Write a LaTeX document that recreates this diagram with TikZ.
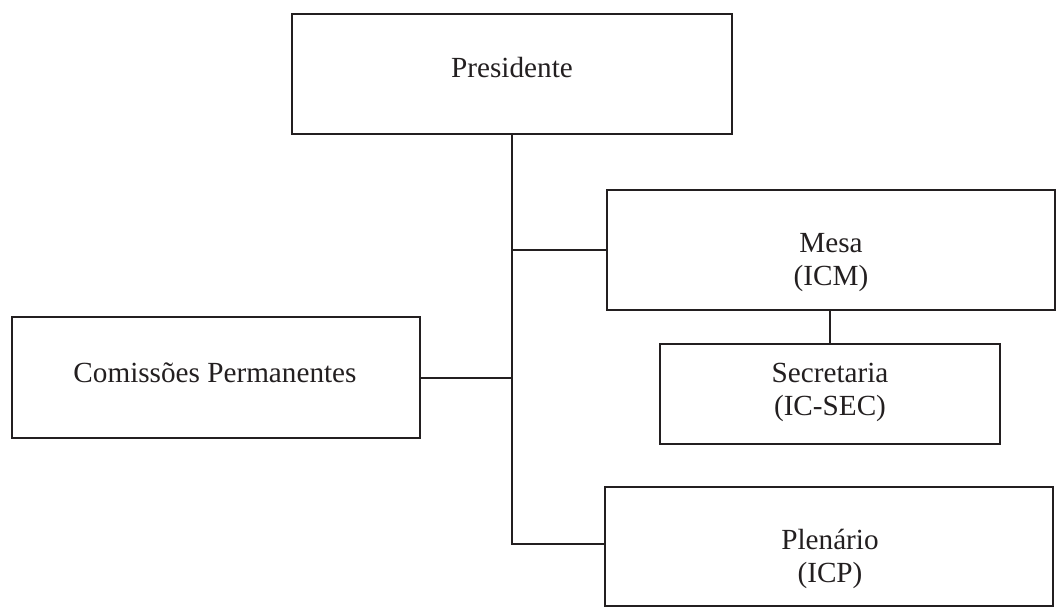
\documentclass[tikz,border=0pt]{standalone}
\usepackage{fontspec}
\setmainfont{Liberation Serif}
\begin{document}
\begin{tikzpicture}[x=0.5pt,y=-0.5pt,
  ink/.style={draw=inkc,line width=1pt},
  box/.style={ink,rectangle,inner sep=0pt,fill=white},
  lbl/.style={anchor=base,inner sep=0pt,text=inkc,font=\fontsize{14.6}{16.5}\selectfont},
  wire/.style={ink}]
\definecolor{inkc}{HTML}{231F20}
\useasboundingbox (0,0) rectangle (1056,607);

% boxes
\node[box,minimum width=220pt,minimum height=60pt]   (pres) at (512,74)    {};
\node[box,minimum width=224pt,minimum height=60pt]   (mesa) at (831,250)   {};
\node[box,minimum width=170pt,minimum height=50pt]   (sec)  at (830,394)   {};
\node[box,minimum width=224pt,minimum height=59.5pt] (ple)  at (829,546.5) {};
\node[box,minimum width=204pt,minimum height=60.5pt] (com)  at (216,377.5) {};

% labels
\node[lbl] (tpres) at (512,77)  {Presidente};
\node[lbl] (tmesa) at (831,252) {\begin{tabular}[t]{@{}c@{}}Mesa\\(ICM)\end{tabular}};
\node[lbl] (tsec)  at (830,382) {\begin{tabular}[t]{@{}c@{}}Secretaria\\(IC-SEC)\end{tabular}};
\node[lbl] (tple)  at (830,549) {\begin{tabular}[t]{@{}c@{}}Plenário\\(ICP)\end{tabular}};
\node[lbl] (tcom)  at (215,382) {Comissões Permanentes};

% connectors
\coordinate (tend) at (512,544);
\draw[wire] (pres.south) -- (tend) -- (tend -| ple.west);
\draw[wire] (pres.south |- mesa.west) -- (mesa.west);
\draw[wire] (com.east) -- (com.east -| pres.south);
\draw[wire] (mesa.south -| sec.north) -- (sec.north);
\end{tikzpicture}
\end{document}
